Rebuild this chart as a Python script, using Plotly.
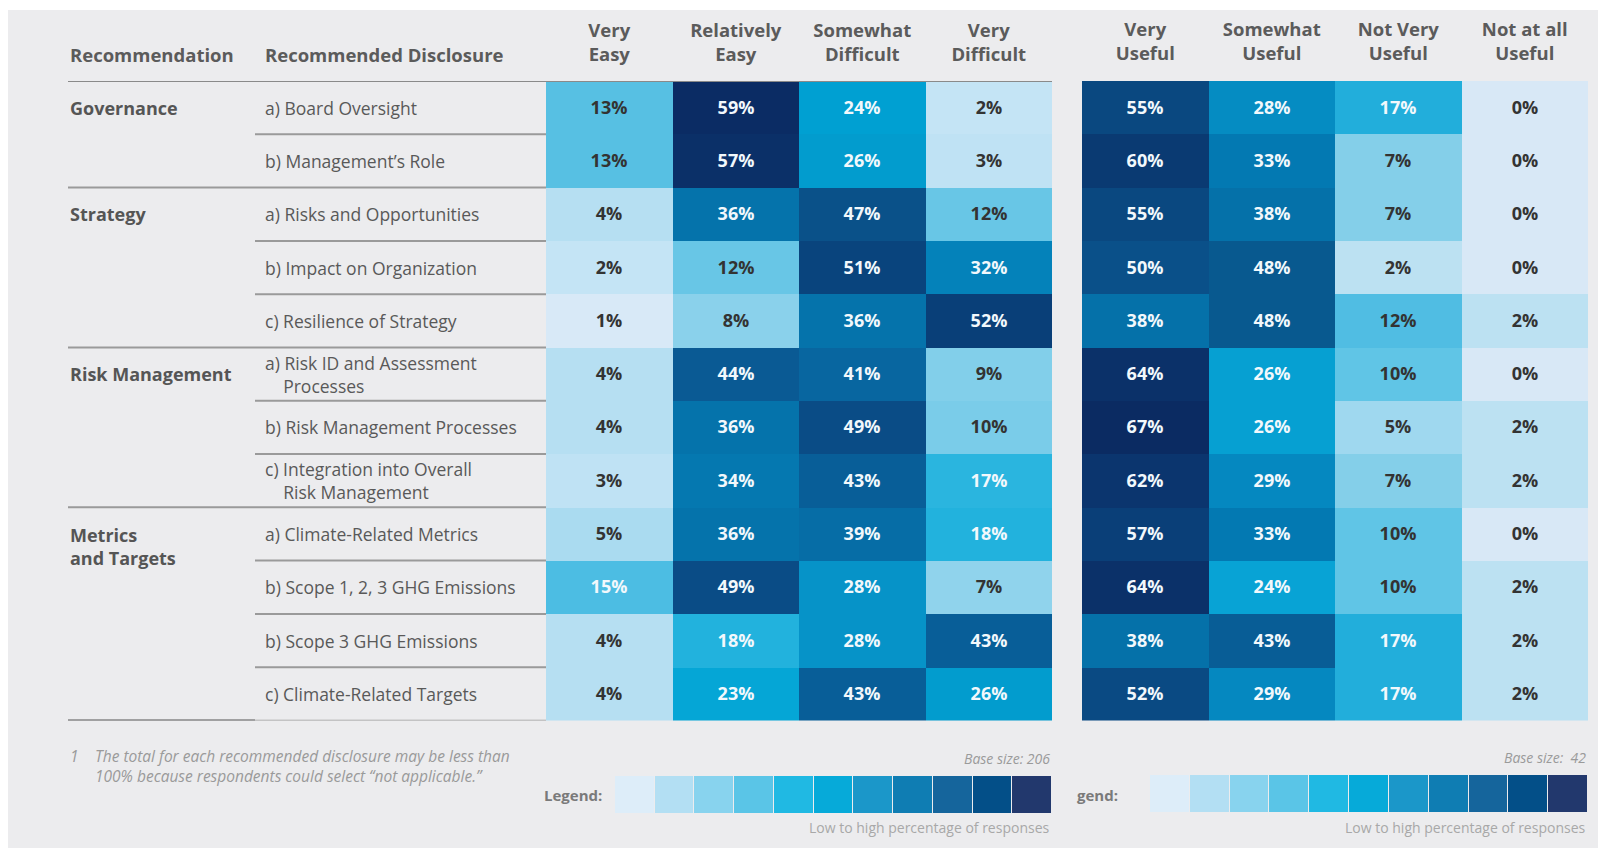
import plotly.graph_objects as go

# the page body keeps its default 8px margin, so the figure sits 8px in
OFF = 8
W, H = 1606 - OFF, 848 - OFF

# ---- data ----
groups = ["Governance", "Strategy", "Risk Management", "Metrics<br>and Targets"]
group_start = [0, 2, 5, 8]

disclosures = [
    "a) Board Oversight",
    "b) Management\u2019s Role",
    "a) Risks and Opportunities",
    "b) Impact on Organization",
    "c) Resilience of Strategy",
    "a) Risk ID and Assessment<br>\u00a0\u00a0\u00a0\u00a0Processes",
    "b) Risk Management Processes",
    "c) Integration into Overall<br>\u00a0\u00a0\u00a0\u00a0Risk Management",
    "a) Climate-Related Metrics",
    "b) Scope 1, 2, 3 GHG Emissions",
    "b) Scope 3 GHG Emissions",
    "c) Climate-Related Targets",
]

ease_cols = ["Very<br>Easy", "Relatively<br>Easy", "Somewhat<br>Difficult", "Very<br>Difficult"]
use_cols = ["Very<br>Useful", "Somewhat<br>Useful", "Not Very<br>Useful", "Not at all<br>Useful"]

ease = [
    [13, 59, 24, 2],
    [13, 57, 26, 3],
    [4, 36, 47, 12],
    [2, 12, 51, 32],
    [1, 8, 36, 52],
    [4, 44, 41, 9],
    [4, 36, 49, 10],
    [3, 34, 43, 17],
    [5, 36, 39, 18],
    [15, 49, 28, 7],
    [4, 18, 28, 43],
    [4, 23, 43, 26],
]

useful = [
    [55, 28, 17, 0],
    [60, 33, 7, 0],
    [55, 38, 7, 0],
    [50, 48, 2, 0],
    [38, 48, 12, 2],
    [64, 26, 10, 0],
    [67, 26, 5, 2],
    [62, 29, 7, 2],
    [57, 33, 10, 0],
    [64, 24, 10, 2],
    [38, 43, 17, 2],
    [52, 29, 17, 2],
]

base_sizes = [206, 42]
legend_steps = list(range(11))

# ---- styles ----
FONT = "Open Sans"
legend_colors = ["#ddedf9", "#b3dff3", "#88d3ee", "#5ac5e7", "#20b9e3", "#06aad9",
                 "#1b97c9", "#0f7db3", "#15659c", "#034f88", "#22386d"]

left_stops = [(0, "#dae9f7"), (1, "#d8e9f7"), (2, "#c4e4f5"), (3, "#bfe2f4"), (4, "#b6dff2"),
              (5, "#aadbf0"), (7, "#90d3ec"), (8, "#8ad1eb"), (9, "#82cfea"), (10, "#7acce9"),
              (12, "#68c6e6"), (13, "#57c0e3"), (15, "#4cbde3"), (17, "#2ab5df"), (18, "#22b2dd"),
              (23, "#05a6d6"), (24, "#00a0d2"), (26, "#029cce"), (28, "#0693c8"), (32, "#0482ba"),
              (34, "#0578b0"), (36, "#0573ab"), (39, "#066da6"), (41, "#0866a0"), (43, "#085e98"),
              (44, "#0a5a94"), (47, "#0a5189"), (49, "#0a4c86"), (51, "#09447d"), (52, "#093f78"),
              (57, "#0b3068"), (59, "#0b2c64")]
right_stops = [(0, "#d8e8f6"), (2, "#bce1f2"), (5, "#9fd8ef"), (7, "#84cfe9"), (10, "#60c5e6"),
               (12, "#50bde3"), (17, "#22aedb"), (24, "#08a3d5"), (26, "#06a0d2"), (28, "#058cc2"),
               (29, "#0588c0"), (33, "#0379b2"), (38, "#0571a9"), (43, "#085d96"), (48, "#08598f"),
               (50, "#0a5089"), (52, "#0a4a83"), (55, "#0a4880"), (57, "#0a3f78"), (60, "#0a3a72"),
               (62, "#0b356e"), (64, "#0b3169"), (67, "#0b2b62")]
CLEAR = [[0, "rgba(0,0,0,0)"], [1, "rgba(0,0,0,0)"]]


def scale(stops):
    top = stops[-1][0]
    return [[v / top, c] for v, c in stops]


def px_x(x):
    return (x - OFF) / W


def px_y(y):
    return 1 - (y - OFF) / H


rows = list(range(len(disclosures)))
fig = go.Figure()

for z, cols, stops, xa in [(ease, ease_cols, left_stops, "x"), (useful, use_cols, right_stops, "x2")]:
    dark = [[f"{v}%" if v < 15 else "" for v in r] for r in z]
    light = [[f"{v}%" if v >= 15 else "" for v in r] for r in z]
    fig.add_trace(go.Heatmap(z=z, x=cols, y=rows, xaxis=xa, yaxis="y",
                             colorscale=scale(stops), zmin=0, zmax=stops[-1][0],
                             text=dark, texttemplate="%{text}",
                             textfont=dict(family=FONT, size=18, color="#333333", weight=700),
                             showscale=False, hoverinfo="skip"))
    fig.add_trace(go.Heatmap(z=z, x=cols, y=rows, xaxis=xa, yaxis="y",
                             colorscale=CLEAR, showscale=False, hoverinfo="skip",
                             text=light, texttemplate="%{text}",
                             textfont=dict(family=FONT, size=18, color="#f2f8fc", weight=700)))

# legend strips
for xa, ya in [("x3", "y3"), ("x4", "y4")]:
    fig.add_trace(go.Heatmap(z=[legend_steps], x=legend_steps, y=[0], xaxis=xa, yaxis=ya,
                             colorscale=[[i / 10, c] for i, c in enumerate(legend_colors)],
                             zmin=0, zmax=10, xgap=1, showscale=False, hoverinfo="skip"))

hidden = dict(showticklabels=False, showgrid=False, zeroline=False, showline=False,
              ticks="", fixedrange=True)
head_font = dict(family=FONT, size=18.5, color="#5b5b5b", weight=700)

fig.update_layout(
    width=W, height=H,
    margin=dict(l=0, r=0, t=0, b=0),
    paper_bgcolor="white", plot_bgcolor="rgba(0,0,0,0)",
    showlegend=False,
    xaxis=dict(domain=[px_x(546), px_x(1052)], anchor="y", side="top", type="category",
               showgrid=False, zeroline=False, ticks="", tickfont=head_font,
               ticklabelstandoff=15, fixedrange=True),
    xaxis2=dict(domain=[px_x(1082), px_x(1588)], anchor="y", side="top", type="category",
                showgrid=False, zeroline=False, ticks="", tickfont=head_font,
                ticklabelstandoff=16, fixedrange=True),
    yaxis=dict(domain=[px_y(720.5), px_y(81)], range=[11.5, -0.5], **hidden),
    xaxis3=dict(domain=[px_x(615), px_x(1052)], anchor="y3", range=[-0.5, 10.5], **hidden),
    yaxis3=dict(domain=[px_y(813), px_y(776)], anchor="x3", range=[-0.5, 0.5], **hidden),
    xaxis4=dict(domain=[px_x(1150), px_x(1588)], anchor="y4", range=[-0.5, 10.5], **hidden),
    yaxis4=dict(domain=[px_y(812), px_y(775)], anchor="x4", range=[-0.5, 0.5], **hidden),
)

shapes = [dict(type="rect", xref="paper", yref="paper", x0=0, x1=1, y0=0, y1=px_y(10),
               fillcolor="#ececee", line=dict(width=0), layer="below")]
line_col = "#9a9a9a"
# header rules
shapes.append(dict(type="line", xref="paper", yref="y", x0=px_x(68), x1=px_x(1052), y0=-0.5, y1=-0.5,
                   line=dict(color="#8a8a8a", width=2)))
shapes.append(dict(type="line", xref="paper", yref="y", x0=px_x(1082), x1=px_x(1588), y0=-0.53, y1=-0.53,
                   line=dict(color="#8a8a8a", width=2)))
# row rules
for b in range(1, len(disclosures) + 1):
    yb = b - 0.5
    if b == len(disclosures):
        shapes.append(dict(type="line", xref="paper", yref="y", x0=px_x(68), x1=px_x(255), y0=yb, y1=yb,
                           line=dict(color="#555555", width=2)))
        shapes.append(dict(type="line", xref="paper", yref="y", x0=px_x(255), x1=px_x(546), y0=yb, y1=yb,
                           line=dict(color=line_col, width=1.5)))
    elif b in group_start:
        shapes.append(dict(type="line", xref="paper", yref="y", x0=px_x(68), x1=px_x(546), y0=yb, y1=yb,
                           line=dict(color=line_col, width=2)))
    else:
        shapes.append(dict(type="line", xref="paper", yref="y", x0=px_x(255), x1=px_x(546), y0=yb, y1=yb,
                           line=dict(color=line_col, width=2)))
fig.update_layout(shapes=shapes)

ann = []
ann.append(dict(text="Recommendation", x=px_x(68), y=px_y(54), xref="paper", yref="paper",
                xanchor="left", yanchor="middle", showarrow=False, font=head_font))
ann.append(dict(text="Recommended Disclosure", x=px_x(263), y=px_y(54), xref="paper", yref="paper",
                xanchor="left", yanchor="middle", showarrow=False, font=head_font))
for g, s in zip(groups, group_start):
    two = "<br>" in g
    ann.append(dict(text=g, x=px_x(68), y=s, xref="paper", yref="y", xanchor="left",
                    yanchor="middle", align="left", yshift=-12.5 if two else 0, showarrow=False,
                    font=dict(family=FONT, size=18, color="#555555", weight=700)))
for r, d in enumerate(disclosures):
    ann.append(dict(text=d, x=px_x(263), y=r, xref="paper", yref="y", xanchor="left",
                    yanchor="middle", align="left", showarrow=False,
                    font=dict(family=FONT, size=17.5, color="#595959")))

foot_font = dict(family=FONT, size=15.5, color="#9a9a9a", style="italic")
base_font = dict(family=FONT, size=14, color="#9a9a9a", style="italic")
ann.append(dict(text="1", x=px_x(68), y=px_y(756), xref="paper", yref="paper", xanchor="left",
                yanchor="middle", showarrow=False, font=foot_font))
ann.append(dict(text="The total for each recommended disclosure may be less than<br>"
                     "100% because respondents could select \u201cnot applicable.\u201d",
                x=px_x(93), y=px_y(765.5), xref="paper", yref="paper", xanchor="left",
                yanchor="middle", align="left", showarrow=False, font=foot_font))
for bs, xr, yb, lab, lx in [(base_sizes[0], 1052, 758, "Legend:", 604),
                            (base_sizes[1], 1588, 757, "gend:", 1120)]:
    ann.append(dict(text=f"Base size: {bs}" if bs > 99 else f"Base size:\u00a0 {bs}",
                    x=px_x(xr), y=px_y(yb), xref="paper", yref="paper",
                    xanchor="right", yanchor="middle", showarrow=False, font=base_font))
    ann.append(dict(text="Low to high percentage of responses", x=px_x(xr), y=px_y(827),
                    xref="paper", yref="paper", xanchor="right", yanchor="middle", showarrow=False,
                    font=dict(family=FONT, size=14, color="#a8a8a8")))
    ann.append(dict(text=lab, x=px_x(lx), y=px_y(795), xref="paper", yref="paper",
                    xanchor="right", yanchor="middle", showarrow=False,
                    font=dict(family=FONT, size=15, color="#7a7a7a", weight=700)))
fig.update_layout(annotations=ann)

fig.write_html("out.html")
